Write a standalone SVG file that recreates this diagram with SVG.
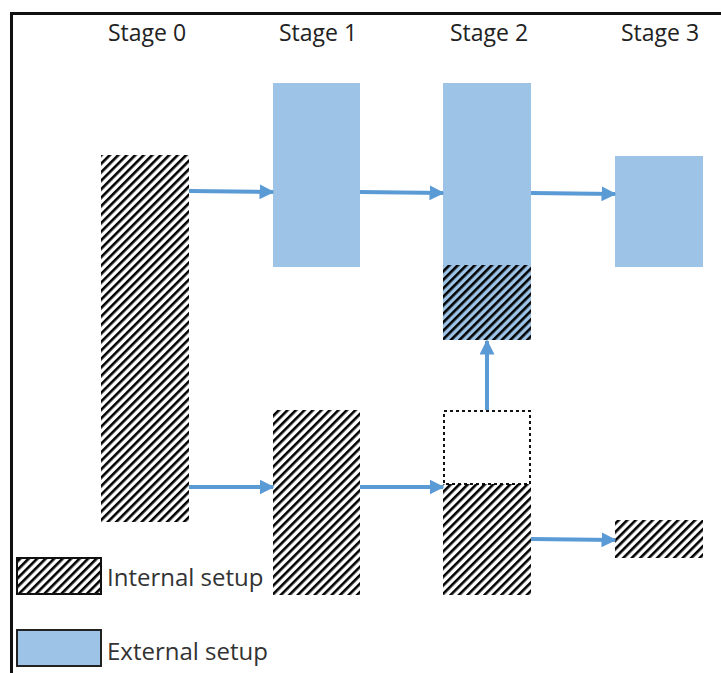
<svg xmlns="http://www.w3.org/2000/svg" width="721" height="673" viewBox="0 0 721 673">
<style>
.lbl{font-family:"Open Sans","Liberation Sans",sans-serif;font-size:23px;fill:#222;text-anchor:middle}
.leg{font-family:"Open Sans","Liberation Sans",sans-serif;font-size:24px;fill:#333}
.ext{fill:#9dc3e6}
.hat{fill:url(#hatch)}
.conn{stroke:#5b9bd5;stroke-width:4;fill:none;marker-end:url(#ah)}
</style>
<defs>
<pattern id="hatch" patternUnits="userSpaceOnUse" width="6" height="6" patternTransform="rotate(45)">
<rect x="0" y="0" width="2.6" height="6" fill="#000"/>
</pattern>
<marker id="ah" viewBox="0 0 10 10" refX="9" refY="5" markerUnits="userSpaceOnUse" markerWidth="15" markerHeight="15" orient="auto">
<path d="M0,0 L10,5 L0,10 z" fill="#5b9bd5"/>
</marker>
</defs>
<rect width="721" height="673" fill="#fff"/>
<path d="M11.5,673 V13.5 H721" fill="none" stroke="#111" stroke-width="3"/>
<g id="labels">
<text class="lbl" x="147" y="41">Stage 0</text>
<text class="lbl" x="318" y="41">Stage 1</text>
<text class="lbl" x="489" y="41">Stage 2</text>
<text class="lbl" x="660" y="41">Stage 3</text>
</g>
<g id="s0-internal"><rect class="hat" x="101" y="155" width="88" height="367"/></g>
<g id="s1-external"><rect class="ext" x="273" y="83" width="87" height="184"/></g>
<g id="s1-internal"><rect class="hat" x="273" y="410" width="87" height="185"/></g>
<g id="s2-external"><rect class="ext" x="443" y="83" width="88" height="257"/><rect class="hat" x="443" y="265" width="88" height="75"/></g>
<g id="s2-removed"><rect x="444" y="411" width="86" height="73" fill="none" stroke="#111" stroke-width="2" stroke-dasharray="3,3"/></g>
<g id="s2-internal"><rect class="hat" x="443" y="484" width="88" height="111"/></g>
<g id="s3-external"><rect class="ext" x="615" y="156" width="88" height="111"/></g>
<g id="s3-internal"><rect class="hat" x="615" y="520" width="88" height="38"/></g>
<g id="connectors">
<line class="conn" x1="189" y1="191" x2="273" y2="192"/>
<line class="conn" x1="360" y1="192" x2="443" y2="193"/>
<line class="conn" x1="531" y1="193" x2="615" y2="194"/>
<line class="conn" x1="189" y1="487" x2="273" y2="487"/>
<line class="conn" x1="360" y1="487" x2="443" y2="487"/>
<line class="conn" x1="531" y1="539" x2="615" y2="540"/>
<line class="conn" x1="487" y1="410" x2="487" y2="341"/>
</g>
<g id="legend-internal"><rect x="17" y="558" width="84" height="36" fill="#fff"/><rect class="hat" x="17" y="558" width="84" height="36" stroke="#111" stroke-width="2"/><text class="leg" x="107" y="586">Internal setup</text></g>
<g id="legend-external"><rect class="ext" x="17" y="630" width="84" height="36" stroke="#222" stroke-width="2"/><text class="leg" x="107" y="660">External setup</text></g>
</svg>
